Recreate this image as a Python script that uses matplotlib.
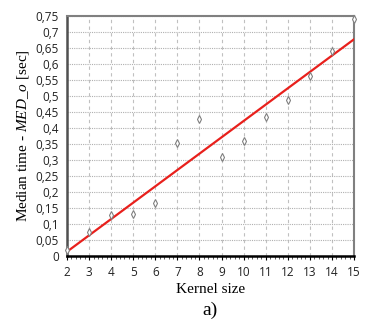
import matplotlib
matplotlib.use("Agg")
import matplotlib.pyplot as plt
import numpy as np
from matplotlib.ticker import MultipleLocator, FuncFormatter

# Data
kernel_size = [2, 3, 4, 5, 6, 7, 8, 9, 10, 11, 12, 13, 14, 15]
median_time = [0.020, 0.075, 0.128, 0.131, 0.166, 0.354, 0.427, 0.310,
               0.360, 0.434, 0.488, 0.563, 0.640, 0.740]
y_ticks = [0.0, 0.05, 0.1, 0.15, 0.2, 0.25, 0.3, 0.35, 0.4, 0.45, 0.5,
           0.55, 0.6, 0.65, 0.7, 0.75]

plt.rcParams['mathtext.fontset'] = 'custom'
plt.rcParams['mathtext.rm'] = 'Liberation Serif'
plt.rcParams['mathtext.it'] = 'Liberation Serif:italic'

fig = plt.figure(figsize=(3.65, 3.23), dpi=100)
ax = fig.add_axes([0.1836, 0.2074, 0.7863, 0.743])

# linear trendline
k, b = np.polyfit(kernel_size, median_time, 1)
xs = np.array([kernel_size[0], kernel_size[-1]])
ax.plot(xs, k * xs + b, color='#e8201c', linewidth=1.6, zorder=3)

ax.plot(kernel_size, median_time, linestyle='none', marker='d', markersize=4,
        markerfacecolor='white', markeredgecolor='#808080', markeredgewidth=0.8,
        clip_on=False, zorder=4)

ax.set_xlim(2, 15)
ax.set_ylim(0, 0.75)
ax.set_xticks(kernel_size)
ax.set_yticks(y_ticks)
ax.xaxis.set_minor_locator(MultipleLocator(0.2))
ax.yaxis.set_major_formatter(FuncFormatter(
    lambda v, p: ('%g' % round(v, 2)).replace('.', ',')))

ax.grid(True, which='major', axis='y', color='#b0b0b0', linestyle=(0, (1, 1)), linewidth=0.8)
ax.grid(True, which='major', axis='x', color='#c0c0c0', linestyle=(0, (3, 3)), linewidth=0.8)

for s in ['top', 'right']:
    ax.spines[s].set_color('#808080')
    ax.spines[s].set_linewidth(1.5)
ax.spines['left'].set_color('#505050')
ax.spines['left'].set_linewidth(1.8)
ax.spines['bottom'].set_color('#000000')
ax.spines['bottom'].set_linewidth(1.8)

ax.tick_params(axis='y', which='both', length=0, pad=6, labelsize=8.5,
               labelcolor='#222222')
ax.tick_params(axis='x', which='major', length=3, direction='out', pad=4,
               labelsize=8.5, labelcolor='#222222')
ax.tick_params(axis='x', which='minor', length=2, direction='out', color='#404040')
for lbl in ax.get_xticklabels() + ax.get_yticklabels():
    lbl.set_family('Open Sans')

ax.set_xlabel('Kernel size', family='Liberation Serif', fontsize=11, labelpad=3)
ax.set_ylabel('Median time - $\\mathit{MED\\_o}$ [sec]', family='Liberation Serif',
              fontsize=11, labelpad=3)
fig.text(0.575, 0.012, 'a)', family='Liberation Serif', fontsize=14,
         ha='center', va='bottom')

fig.savefig('out.png', dpi=100)
